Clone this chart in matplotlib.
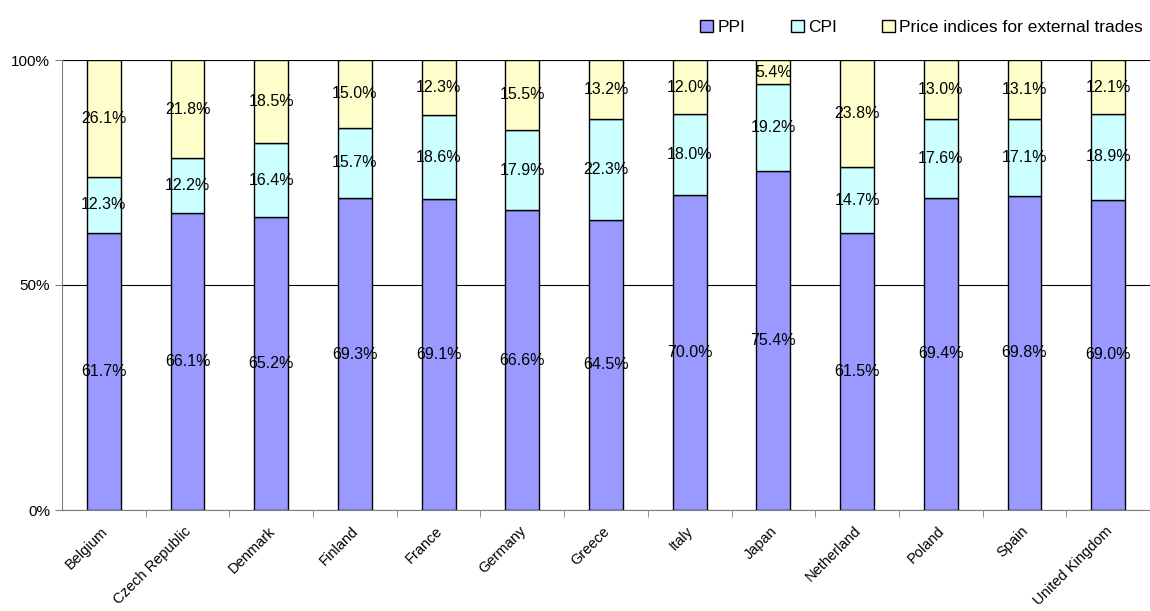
import matplotlib.pyplot as plt
import numpy as np

countries = ['Belgium', 'Czech Republic', 'Denmark', 'Finland', 'France', 'Germany',
             'Greece', 'Italy', 'Japan', 'Netherland', 'Poland', 'Spain', 'United Kingdom']
ppi = [61.7, 66.1, 65.2, 69.3, 69.1, 66.6, 64.5, 70.0, 75.4, 61.5, 69.4, 69.8, 69.0]
cpi = [12.3, 12.2, 16.4, 15.7, 18.6, 17.9, 22.3, 18.0, 19.2, 14.7, 17.6, 17.1, 18.9]
ext = [26.1, 21.8, 18.5, 15.0, 12.3, 15.5, 13.2, 12.0, 5.4, 23.8, 13.0, 13.1, 12.1]

series = [('PPI', ppi, '#9999FF'),
          ('CPI', cpi, '#CCFFFF'),
          ('Price indices for external trades', ext, '#FFFFCC')]

plt.rcParams['font.family'] = ['Liberation Sans', 'DejaVu Sans']

fig = plt.figure(figsize=(11.5, 6.11), dpi=100)
ax = fig.add_axes([62 / 1150, 1 - 510 / 611, 1 - 62 / 1150, 450 / 611])

x = np.arange(len(countries))
bottom = np.zeros(len(countries))
total = np.array(ppi) + np.array(cpi) + np.array(ext)
for name, vals, color in series:
    vals = np.array(vals)
    # stack as shares of the row total so every bar reaches 100%
    share = vals / total * 100
    ax.bar(x, share, 0.405, bottom=bottom, color=color, edgecolor='black',
           linewidth=1.0, label=name, zorder=3)
    for xi, b, s, v in zip(x, bottom, share, vals):
        ax.text(xi, b + s / 2, f'{v:.1f}%', ha='center', va='center',
                fontsize=11.5, zorder=4)
    bottom += share

ax.set_ylim(0, 100)
ax.set_xlim(-0.5, 12.45)
ax.set_yticks([0, 50, 100])
ax.set_yticklabels(['0%', '50%', '100%'], fontsize=11)
ax.yaxis.grid(True, color='black', linewidth=0.8, zorder=0)

ax.set_xticks(x - 0.04)
ax.set_xticklabels(countries, rotation=45, ha='right', rotation_mode='anchor', fontsize=10.5)
ax.set_xticks(np.arange(len(countries)) + 0.5, minor=True)
ax.tick_params(axis='x', which='major', length=0, pad=10)
ax.tick_params(axis='x', which='minor', length=5, color='#808080')
ax.tick_params(axis='y', length=5, color='#808080')

for side in ['top', 'right']:
    ax.spines[side].set_visible(False)
for side in ['left', 'bottom']:
    ax.spines[side].set_color('#808080')

ax.legend(loc='lower right', bbox_to_anchor=(1.0, 1.04), ncol=3, frameon=False,
          fontsize=12.5, handlelength=0.75, handleheight=0.75, handletextpad=0.25,
          columnspacing=2.6, borderaxespad=0)

fig.savefig('out.png', dpi=100)
